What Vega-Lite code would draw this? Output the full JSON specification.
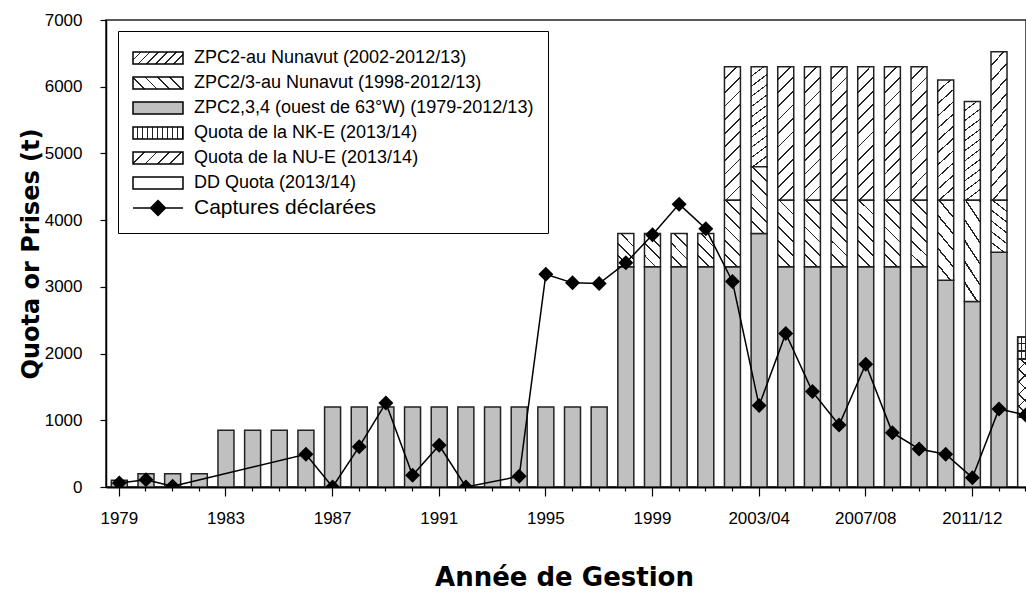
{
  "$schema": "https://vega.github.io/schema/vega-lite/v6.json",
  "width": 920,
  "height": 467,
  "autosize": {"type": "none"},
  "padding": {"left": 106, "top": 20, "right": 0, "bottom": 105},
  "background": "white",
  "config": {
    "font": "Liberation Sans",
    "view": {"stroke": "#222", "strokeWidth": 1.5},
    "axis": {
      "labelFont": "Liberation Sans", "labelFontSize": 17, "labelColor": "#000",
      "titleFont": "DejaVu Sans", "titleFontSize": 24, "titleFontWeight": "bold", "titleColor": "#000",
      "domainColor": "#000", "tickColor": "#000", "domainWidth": 1.5, "tickWidth": 1.2, "grid": false
    },
    "axisY": {"labelPadding": 18, "tickSize": 6, "titlePadding": 1},
    "axisX": {"titleFontSize": 26}
  },
  "datasets": {
    "quota": [
      {"year": "1979", "series": "ZPC2,3,4 (ouest de 63°W) (1979-2012/13)", "value": 100},
      {"year": "1980", "series": "ZPC2,3,4 (ouest de 63°W) (1979-2012/13)", "value": 200},
      {"year": "1981", "series": "ZPC2,3,4 (ouest de 63°W) (1979-2012/13)", "value": 200},
      {"year": "1982", "series": "ZPC2,3,4 (ouest de 63°W) (1979-2012/13)", "value": 200},
      {"year": "1983", "series": "ZPC2,3,4 (ouest de 63°W) (1979-2012/13)", "value": 850},
      {"year": "1984", "series": "ZPC2,3,4 (ouest de 63°W) (1979-2012/13)", "value": 850},
      {"year": "1985", "series": "ZPC2,3,4 (ouest de 63°W) (1979-2012/13)", "value": 850},
      {"year": "1986", "series": "ZPC2,3,4 (ouest de 63°W) (1979-2012/13)", "value": 850},
      {"year": "1987", "series": "ZPC2,3,4 (ouest de 63°W) (1979-2012/13)", "value": 1200},
      {"year": "1988", "series": "ZPC2,3,4 (ouest de 63°W) (1979-2012/13)", "value": 1200},
      {"year": "1989", "series": "ZPC2,3,4 (ouest de 63°W) (1979-2012/13)", "value": 1200},
      {"year": "1990", "series": "ZPC2,3,4 (ouest de 63°W) (1979-2012/13)", "value": 1200},
      {"year": "1991", "series": "ZPC2,3,4 (ouest de 63°W) (1979-2012/13)", "value": 1200},
      {"year": "1992", "series": "ZPC2,3,4 (ouest de 63°W) (1979-2012/13)", "value": 1200},
      {"year": "1993", "series": "ZPC2,3,4 (ouest de 63°W) (1979-2012/13)", "value": 1200},
      {"year": "1994", "series": "ZPC2,3,4 (ouest de 63°W) (1979-2012/13)", "value": 1200},
      {"year": "1995", "series": "ZPC2,3,4 (ouest de 63°W) (1979-2012/13)", "value": 1200},
      {"year": "1996", "series": "ZPC2,3,4 (ouest de 63°W) (1979-2012/13)", "value": 1200},
      {"year": "1997", "series": "ZPC2,3,4 (ouest de 63°W) (1979-2012/13)", "value": 1200},
      {"year": "1998", "series": "ZPC2,3,4 (ouest de 63°W) (1979-2012/13)", "value": 3300},
      {"year": "1998", "series": "ZPC2/3-au Nunavut (1998-2012/13)", "value": 500},
      {"year": "1999", "series": "ZPC2,3,4 (ouest de 63°W) (1979-2012/13)", "value": 3300},
      {"year": "1999", "series": "ZPC2/3-au Nunavut (1998-2012/13)", "value": 500},
      {"year": "2000", "series": "ZPC2,3,4 (ouest de 63°W) (1979-2012/13)", "value": 3300},
      {"year": "2000", "series": "ZPC2/3-au Nunavut (1998-2012/13)", "value": 500},
      {"year": "2001", "series": "ZPC2,3,4 (ouest de 63°W) (1979-2012/13)", "value": 3300},
      {"year": "2001", "series": "ZPC2/3-au Nunavut (1998-2012/13)", "value": 500},
      {"year": "2002", "series": "ZPC2,3,4 (ouest de 63°W) (1979-2012/13)", "value": 3300},
      {"year": "2002", "series": "ZPC2/3-au Nunavut (1998-2012/13)", "value": 1000},
      {"year": "2002", "series": "ZPC2-au Nunavut (2002-2012/13)", "value": 2000},
      {"year": "2003/04", "series": "ZPC2,3,4 (ouest de 63°W) (1979-2012/13)", "value": 3800},
      {"year": "2003/04", "series": "ZPC2/3-au Nunavut (1998-2012/13)", "value": 1000},
      {"year": "2003/04", "series": "ZPC2-au Nunavut (2002-2012/13)", "value": 1500},
      {"year": "2004/05", "series": "ZPC2,3,4 (ouest de 63°W) (1979-2012/13)", "value": 3300},
      {"year": "2004/05", "series": "ZPC2/3-au Nunavut (1998-2012/13)", "value": 1000},
      {"year": "2004/05", "series": "ZPC2-au Nunavut (2002-2012/13)", "value": 2000},
      {"year": "2005/06", "series": "ZPC2,3,4 (ouest de 63°W) (1979-2012/13)", "value": 3300},
      {"year": "2005/06", "series": "ZPC2/3-au Nunavut (1998-2012/13)", "value": 1000},
      {"year": "2005/06", "series": "ZPC2-au Nunavut (2002-2012/13)", "value": 2000},
      {"year": "2006/07", "series": "ZPC2,3,4 (ouest de 63°W) (1979-2012/13)", "value": 3300},
      {"year": "2006/07", "series": "ZPC2/3-au Nunavut (1998-2012/13)", "value": 1000},
      {"year": "2006/07", "series": "ZPC2-au Nunavut (2002-2012/13)", "value": 2000},
      {"year": "2007/08", "series": "ZPC2,3,4 (ouest de 63°W) (1979-2012/13)", "value": 3300},
      {"year": "2007/08", "series": "ZPC2/3-au Nunavut (1998-2012/13)", "value": 1000},
      {"year": "2007/08", "series": "ZPC2-au Nunavut (2002-2012/13)", "value": 2000},
      {"year": "2008/09", "series": "ZPC2,3,4 (ouest de 63°W) (1979-2012/13)", "value": 3300},
      {"year": "2008/09", "series": "ZPC2/3-au Nunavut (1998-2012/13)", "value": 1000},
      {"year": "2008/09", "series": "ZPC2-au Nunavut (2002-2012/13)", "value": 2000},
      {"year": "2009/10", "series": "ZPC2,3,4 (ouest de 63°W) (1979-2012/13)", "value": 3300},
      {"year": "2009/10", "series": "ZPC2/3-au Nunavut (1998-2012/13)", "value": 1000},
      {"year": "2009/10", "series": "ZPC2-au Nunavut (2002-2012/13)", "value": 2000},
      {"year": "2010/11", "series": "ZPC2,3,4 (ouest de 63°W) (1979-2012/13)", "value": 3100},
      {"year": "2010/11", "series": "ZPC2/3-au Nunavut (1998-2012/13)", "value": 1200},
      {"year": "2010/11", "series": "ZPC2-au Nunavut (2002-2012/13)", "value": 1800},
      {"year": "2011/12", "series": "ZPC2,3,4 (ouest de 63°W) (1979-2012/13)", "value": 2780},
      {"year": "2011/12", "series": "ZPC2/3-au Nunavut (1998-2012/13)", "value": 1520},
      {"year": "2011/12", "series": "ZPC2-au Nunavut (2002-2012/13)", "value": 1480},
      {"year": "2012/13", "series": "ZPC2,3,4 (ouest de 63°W) (1979-2012/13)", "value": 3520},
      {"year": "2012/13", "series": "ZPC2/3-au Nunavut (1998-2012/13)", "value": 780},
      {"year": "2012/13", "series": "ZPC2-au Nunavut (2002-2012/13)", "value": 2225},
      {"year": "2013/14", "series": "DD Quota (2013/14)", "value": 1050},
      {"year": "2013/14", "series": "Quota de la NU-E (2013/14)", "value": 870},
      {"year": "2013/14", "series": "Quota de la NK-E (2013/14)", "value": 330}
    ],
    "catch": [
      {"year": "1979", "catch": 60},
      {"year": "1980", "catch": 110},
      {"year": "1981", "catch": 10},
      {"year": "1986", "catch": 490},
      {"year": "1987", "catch": 0},
      {"year": "1988", "catch": 605},
      {"year": "1989", "catch": 1260},
      {"year": "1990", "catch": 175},
      {"year": "1991", "catch": 625},
      {"year": "1992", "catch": 0},
      {"year": "1994", "catch": 160},
      {"year": "1995", "catch": 3190},
      {"year": "1996", "catch": 3060},
      {"year": "1997", "catch": 3050},
      {"year": "1998", "catch": 3360},
      {"year": "1999", "catch": 3780},
      {"year": "2000", "catch": 4240},
      {"year": "2001", "catch": 3870},
      {"year": "2002", "catch": 3080},
      {"year": "2003/04", "catch": 1220},
      {"year": "2004/05", "catch": 2300},
      {"year": "2005/06", "catch": 1430},
      {"year": "2006/07", "catch": 930},
      {"year": "2007/08", "catch": 1840},
      {"year": "2008/09", "catch": 815},
      {"year": "2009/10", "catch": 570},
      {"year": "2010/11", "catch": 490},
      {"year": "2011/12", "catch": 140},
      {"year": "2012/13", "catch": 1170},
      {"year": "2013/14", "catch": 1080}
    ]
  },
  "encoding": {
    "x": {
      "field": "year", "type": "nominal", "title": "Année de Gestion",
      "scale": {
        "domain": ["1979","1980","1981","1982","1983","1984","1985","1986","1987","1988","1989","1990","1991","1992","1993","1994","1995","1996","1997","1998","1999","2000","2001","2002","2003/04","2004/05","2005/06","2006/07","2007/08","2008/09","2009/10","2010/11","2011/12","2012/13","2013/14"],
        "range": [0, 933], "paddingInner": 0.4, "paddingOuter": 0.2
      },
      "axis": {
        "labelExpr": "indexof(['1979','1983','1987','1991','1995','1999','2003/04','2007/08','2011/12'], datum.value) >= 0 ? datum.value : ''",
        "labelAngle": 0, "labelOverlap": false, "bandPosition": 0.5,
        "tickSize": {"condition": {"test": "indexof(['1979','1983','1987','1991','1995','1999','2003/04','2007/08','2011/12'], datum.value) >= 0", "value": 9}, "value": 4},
        "labelPadding": 14, "titlePadding": 38, "domainWidth": 2, "titleX": 458
      }
    }
  },
  "layer": [
    {
      "data": {"name": "quota"},
      "transform": [
        {"stack": "value", "groupby": ["year"], "as": ["v0", "v1"]},
        {"filter": "datum.series === 'ZPC2,3,4 (ouest de 63°W) (1979-2012/13)'"}
      ],
      "mark": {"type": "bar", "stroke": "#222", "strokeWidth": 1.5, "clip": true, "fill": "#c0c0c0"},
      "encoding": {
        "y": {
          "field": "v1", "type": "quantitative", "title": "Quota or Prises (t)",
          "scale": {"domain": [0, 7000], "nice": false},
          "axis": {
            "values": [0,500,1000,1500,2000,2500,3000,3500,4000,4500,5000,5500,6000,6500,7000],
            "format": "d", "labelExpr": "datum.value % 1000 === 0 ? datum.label : ''",
            "tickSize": 6, "labelPadding": 18, "titlePadding": 1, "labelOverlap": false
          }
        },
        "y2": {"field": "v0"}
      }
    },
    {
      "data": {"name": "quota"},
      "transform": [
        {"stack": "value", "groupby": ["year"], "as": ["v0", "v1"]},
        {"filter": "datum.series === 'DD Quota (2013/14)'"}
      ],
      "mark": {"type": "bar", "stroke": "#222", "strokeWidth": 1.5, "clip": true, "fill": "#ffffff"},
      "encoding": {
        "y": {"field": "v1", "type": "quantitative", "title": "Quota or Prises (t)", "scale": {"domain": [0, 7000], "nice": false}},
        "y2": {"field": "v0"}
      }
    },
    {
      "data": {"name": "quota"},
      "transform": [
        {"stack": "value", "groupby": ["year"], "as": ["v0", "v1"]},
        {"filter": "datum.series === 'ZPC2-au Nunavut (2002-2012/13)'"}
      ],
      "mark": {"type": "bar", "stroke": "#222", "strokeWidth": 1.5, "clip": true,
        "fill": {"gradient": "linear", "x1": 0, "y1": 0, "x2": 0.1325, "y2": 1.104, "stops": [
          {"offset":0,"color":"#fff"},{"offset":0.0791,"color":"#fff"},{"offset":0.0791,"color":"#222"},{"offset":0.0909,"color":"#222"},
          {"offset":0.0909,"color":"#fff"},{"offset":0.17,"color":"#fff"},{"offset":0.17,"color":"#222"},{"offset":0.1818,"color":"#222"},
          {"offset":0.1818,"color":"#fff"},{"offset":0.2609,"color":"#fff"},{"offset":0.2609,"color":"#222"},{"offset":0.2727,"color":"#222"},
          {"offset":0.2727,"color":"#fff"},{"offset":0.3518,"color":"#fff"},{"offset":0.3518,"color":"#222"},{"offset":0.3636,"color":"#222"},
          {"offset":0.3636,"color":"#fff"},{"offset":0.4427,"color":"#fff"},{"offset":0.4427,"color":"#222"},{"offset":0.4545,"color":"#222"},
          {"offset":0.4545,"color":"#fff"},{"offset":0.5336,"color":"#fff"},{"offset":0.5336,"color":"#222"},{"offset":0.5455,"color":"#222"},
          {"offset":0.5455,"color":"#fff"},{"offset":0.6246,"color":"#fff"},{"offset":0.6246,"color":"#222"},{"offset":0.6364,"color":"#222"},
          {"offset":0.6364,"color":"#fff"},{"offset":0.7155,"color":"#fff"},{"offset":0.7155,"color":"#222"},{"offset":0.7273,"color":"#222"},
          {"offset":0.7273,"color":"#fff"},{"offset":0.8064,"color":"#fff"},{"offset":0.8064,"color":"#222"},{"offset":0.8182,"color":"#222"},
          {"offset":0.8182,"color":"#fff"},{"offset":0.8973,"color":"#fff"},{"offset":0.8973,"color":"#222"},{"offset":0.9091,"color":"#222"},
          {"offset":0.9091,"color":"#fff"},{"offset":0.9882,"color":"#fff"},{"offset":0.9882,"color":"#222"},{"offset":1,"color":"#222"}
        ]}
      },
      "encoding": {
        "y": {"field": "v1", "type": "quantitative", "title": "Quota or Prises (t)", "scale": {"domain": [0, 7000], "nice": false}},
        "y2": {"field": "v0"}
      }
    },
    {
      "data": {"name": "quota"},
      "transform": [
        {"stack": "value", "groupby": ["year"], "as": ["v0", "v1"]},
        {"filter": "datum.series === 'ZPC2/3-au Nunavut (1998-2012/13)' && datum.value !== 500"}
      ],
      "mark": {"type": "bar", "stroke": "#222", "strokeWidth": 1.5, "clip": true,
        "fill": {"gradient": "linear", "x1": 0, "y1": 1, "x2": 0.28, "y2": -0.172, "stops": [
          {"offset":0,"color":"#fff"},{"offset":0.145,"color":"#fff"},{"offset":0.145,"color":"#222"},{"offset":0.1667,"color":"#222"},
          {"offset":0.1667,"color":"#fff"},{"offset":0.3117,"color":"#fff"},{"offset":0.3117,"color":"#222"},{"offset":0.3333,"color":"#222"},
          {"offset":0.3333,"color":"#fff"},{"offset":0.4783,"color":"#fff"},{"offset":0.4783,"color":"#222"},{"offset":0.5,"color":"#222"},
          {"offset":0.5,"color":"#fff"},{"offset":0.645,"color":"#fff"},{"offset":0.645,"color":"#222"},{"offset":0.6667,"color":"#222"},
          {"offset":0.6667,"color":"#fff"},{"offset":0.8117,"color":"#fff"},{"offset":0.8117,"color":"#222"},{"offset":0.8333,"color":"#222"},
          {"offset":0.8333,"color":"#fff"},{"offset":0.9783,"color":"#fff"},{"offset":0.9783,"color":"#222"},{"offset":1,"color":"#222"}
        ]}
      },
      "encoding": {
        "y": {"field": "v1", "type": "quantitative", "title": "Quota or Prises (t)", "scale": {"domain": [0, 7000], "nice": false}},
        "y2": {"field": "v0"}
      }
    },
    {
      "data": {"name": "quota"},
      "transform": [
        {"stack": "value", "groupby": ["year"], "as": ["v0", "v1"]},
        {"filter": "datum.series === 'ZPC2/3-au Nunavut (1998-2012/13)' && datum.value === 500"}
      ],
      "mark": {"type": "bar", "stroke": "#222", "strokeWidth": 1.5, "clip": true,
        "fill": {"gradient": "linear", "x1": 0, "y1": 1, "x2": 0.583, "y2": -0.202, "stops": [
          {"offset":0,"color":"#fff"},{"offset":0.215,"color":"#fff"},{"offset":0.215,"color":"#222"},{"offset":0.25,"color":"#222"},
          {"offset":0.25,"color":"#fff"},{"offset":0.465,"color":"#fff"},{"offset":0.465,"color":"#222"},{"offset":0.5,"color":"#222"},
          {"offset":0.5,"color":"#fff"},{"offset":0.715,"color":"#fff"},{"offset":0.715,"color":"#222"},{"offset":0.75,"color":"#222"},
          {"offset":0.75,"color":"#fff"},{"offset":0.965,"color":"#fff"},{"offset":0.965,"color":"#222"},{"offset":1,"color":"#222"}
        ]}
      },
      "encoding": {
        "y": {"field": "v1", "type": "quantitative", "title": "Quota or Prises (t)", "scale": {"domain": [0, 7000], "nice": false}},
        "y2": {"field": "v0"}
      }
    },
    {
      "data": {"name": "quota"},
      "transform": [
        {"stack": "value", "groupby": ["year"], "as": ["v0", "v1"]},
        {"filter": "datum.series === 'Quota de la NU-E (2013/14)'"}
      ],
      "mark": {"type": "bar", "stroke": "#222", "strokeWidth": 1.5, "clip": true,
        "fill": {"gradient": "linear", "x1": 0, "y1": 0, "x2": 0.327, "y2": 1.186, "stops": [
          {"offset":0,"color":"#fff"},{"offset":0.145,"color":"#fff"},{"offset":0.145,"color":"#222"},{"offset":0.1667,"color":"#222"},
          {"offset":0.1667,"color":"#fff"},{"offset":0.3117,"color":"#fff"},{"offset":0.3117,"color":"#222"},{"offset":0.3333,"color":"#222"},
          {"offset":0.3333,"color":"#fff"},{"offset":0.4783,"color":"#fff"},{"offset":0.4783,"color":"#222"},{"offset":0.5,"color":"#222"},
          {"offset":0.5,"color":"#fff"},{"offset":0.645,"color":"#fff"},{"offset":0.645,"color":"#222"},{"offset":0.6667,"color":"#222"},
          {"offset":0.6667,"color":"#fff"},{"offset":0.8117,"color":"#fff"},{"offset":0.8117,"color":"#222"},{"offset":0.8333,"color":"#222"},
          {"offset":0.8333,"color":"#fff"},{"offset":0.9783,"color":"#fff"},{"offset":0.9783,"color":"#222"},{"offset":1,"color":"#222"}
        ]}
      },
      "encoding": {
        "y": {"field": "v1", "type": "quantitative", "title": "Quota or Prises (t)", "scale": {"domain": [0, 7000], "nice": false}},
        "y2": {"field": "v0"}
      }
    },
    {
      "data": {"name": "quota"},
      "transform": [
        {"stack": "value", "groupby": ["year"], "as": ["v0", "v1"]},
        {"filter": "datum.series === 'Quota de la NU-E (2013/14)'"}
      ],
      "mark": {"type": "bar", "stroke": "#222", "strokeWidth": 1.5, "clip": true,
        "fill": {"gradient": "linear", "x1": 0, "y1": 1, "x2": 0.327, "y2": -0.186, "stops": [
          {"offset":0,"color":"rgba(0,0,0,0)"},{"offset":0.145,"color":"rgba(0,0,0,0)"},{"offset":0.145,"color":"#222"},{"offset":0.1667,"color":"#222"},
          {"offset":0.1667,"color":"rgba(0,0,0,0)"},{"offset":0.3117,"color":"rgba(0,0,0,0)"},{"offset":0.3117,"color":"#222"},{"offset":0.3333,"color":"#222"},
          {"offset":0.3333,"color":"rgba(0,0,0,0)"},{"offset":0.4783,"color":"rgba(0,0,0,0)"},{"offset":0.4783,"color":"#222"},{"offset":0.5,"color":"#222"},
          {"offset":0.5,"color":"rgba(0,0,0,0)"},{"offset":0.645,"color":"rgba(0,0,0,0)"},{"offset":0.645,"color":"#222"},{"offset":0.6667,"color":"#222"},
          {"offset":0.6667,"color":"rgba(0,0,0,0)"},{"offset":0.8117,"color":"rgba(0,0,0,0)"},{"offset":0.8117,"color":"#222"},{"offset":0.8333,"color":"#222"},
          {"offset":0.8333,"color":"rgba(0,0,0,0)"},{"offset":0.9783,"color":"rgba(0,0,0,0)"},{"offset":0.9783,"color":"#222"},{"offset":1,"color":"#222"}
        ]}
      },
      "encoding": {
        "y": {"field": "v1", "type": "quantitative", "title": "Quota or Prises (t)", "scale": {"domain": [0, 7000], "nice": false}},
        "y2": {"field": "v0"}
      }
    },
    {
      "data": {"name": "quota"},
      "transform": [
        {"stack": "value", "groupby": ["year"], "as": ["v0", "v1"]},
        {"filter": "datum.series === 'Quota de la NK-E (2013/14)'"}
      ],
      "mark": {"type": "bar", "stroke": "#222", "strokeWidth": 1.5, "clip": true,
        "fill": {"gradient": "linear", "x1": 0, "y1": 0, "x2": 1, "y2": 0, "stops": [
          {"offset":0,"color":"#fff"},{"offset":0.1875,"color":"#fff"},{"offset":0.1875,"color":"#222"},{"offset":0.25,"color":"#222"},
          {"offset":0.25,"color":"#fff"},{"offset":0.4375,"color":"#fff"},{"offset":0.4375,"color":"#222"},{"offset":0.5,"color":"#222"},
          {"offset":0.5,"color":"#fff"},{"offset":0.6875,"color":"#fff"},{"offset":0.6875,"color":"#222"},{"offset":0.75,"color":"#222"},
          {"offset":0.75,"color":"#fff"},{"offset":0.9375,"color":"#fff"},{"offset":0.9375,"color":"#222"},{"offset":1,"color":"#222"}
        ]}
      },
      "encoding": {
        "y": {"field": "v1", "type": "quantitative", "title": "Quota or Prises (t)", "scale": {"domain": [0, 7000], "nice": false}},
        "y2": {"field": "v0"}
      }
    },
    {
      "data": {"name": "quota"},
      "transform": [
        {"stack": "value", "groupby": ["year"], "as": ["v0", "v1"]},
        {"filter": "datum.series === 'Quota de la NK-E (2013/14)'"}
      ],
      "mark": {"type": "bar", "stroke": "#222", "strokeWidth": 1.5, "clip": true,
        "fill": {"gradient": "linear", "x1": 0, "y1": 0, "x2": 0, "y2": 1, "stops": [
          {"offset":0,"color":"rgba(0,0,0,0)"},{"offset":0.2833,"color":"rgba(0,0,0,0)"},{"offset":0.2833,"color":"#222"},{"offset":0.3333,"color":"#222"},
          {"offset":0.3333,"color":"rgba(0,0,0,0)"},{"offset":0.6167,"color":"rgba(0,0,0,0)"},{"offset":0.6167,"color":"#222"},{"offset":0.6667,"color":"#222"},
          {"offset":0.6667,"color":"rgba(0,0,0,0)"},{"offset":0.95,"color":"rgba(0,0,0,0)"},{"offset":0.95,"color":"#222"},{"offset":1,"color":"#222"}
        ]}
      },
      "encoding": {
        "y": {"field": "v1", "type": "quantitative", "title": "Quota or Prises (t)", "scale": {"domain": [0, 7000], "nice": false}},
        "y2": {"field": "v0"}
      }
    },
    {
      "data": {"name": "catch"},
      "mark": {"type": "line", "color": "#000", "strokeWidth": 1.5, "clip": true,
        "point": {"shape": "diamond", "filled": true, "size": 225, "color": "#000", "clip": true}},
      "encoding": {
        "y": {"field": "catch", "type": "quantitative", "title": "Quota or Prises (t)", "scale": {"domain": [0, 7000], "nice": false}}
      }
    },
    {
      "data": {"name": "catch"},
      "transform": [{"filter": "datum.catch < 0"}],
      "mark": {"type": "point", "filled": true, "opacity": 1, "stroke": "#000", "strokeWidth": 1.5, "size": 576},
      "encoding": {
        "y": {"field": "catch", "type": "quantitative", "title": "Quota or Prises (t)", "scale": {"domain": [0, 7000], "nice": false}},
        "color": {
          "field": "series", "type": "nominal",
          "scale": {
            "domain": ["ZPC2-au Nunavut (2002-2012/13)", "ZPC2/3-au Nunavut (1998-2012/13)", "ZPC2,3,4 (ouest de 63°W) (1979-2012/13)", "Quota de la NK-E (2013/14)", "Quota de la NU-E (2013/14)", "DD Quota (2013/14)", "Captures déclarées"],
            "range": [
              {"expr": "{gradient:'linear',x1:0,y1:0,x2:1.172,y2:0.281,stops:[{offset:0,color:'#fff'},{offset:0.1172,color:'#fff'},{offset:0.1172,color:'#222'},{offset:0.1429,color:'#222'},{offset:0.1429,color:'#fff'},{offset:0.26,color:'#fff'},{offset:0.26,color:'#222'},{offset:0.2857,color:'#222'},{offset:0.2857,color:'#fff'},{offset:0.4029,color:'#fff'},{offset:0.4029,color:'#222'},{offset:0.4286,color:'#222'},{offset:0.4286,color:'#fff'},{offset:0.5457,color:'#fff'},{offset:0.5457,color:'#222'},{offset:0.5714,color:'#222'},{offset:0.5714,color:'#fff'},{offset:0.6886,color:'#fff'},{offset:0.6886,color:'#222'},{offset:0.7143,color:'#222'},{offset:0.7143,color:'#fff'},{offset:0.8314,color:'#fff'},{offset:0.8314,color:'#222'},{offset:0.8571,color:'#222'},{offset:0.8571,color:'#fff'},{offset:0.9743,color:'#fff'},{offset:0.9743,color:'#222'},{offset:1,color:'#222'}]}"},
              {"expr": "{gradient:'linear',x1:0,y1:1,x2:1.172,y2:0.719,stops:[{offset:0,color:'#fff'},{offset:0.172,color:'#fff'},{offset:0.172,color:'#222'},{offset:0.2,color:'#222'},{offset:0.2,color:'#fff'},{offset:0.372,color:'#fff'},{offset:0.372,color:'#222'},{offset:0.4,color:'#222'},{offset:0.4,color:'#fff'},{offset:0.572,color:'#fff'},{offset:0.572,color:'#222'},{offset:0.6,color:'#222'},{offset:0.6,color:'#fff'},{offset:0.772,color:'#fff'},{offset:0.772,color:'#222'},{offset:0.8,color:'#222'},{offset:0.8,color:'#fff'},{offset:0.972,color:'#fff'},{offset:0.972,color:'#222'},{offset:1,color:'#222'}]}"},
              "#c0c0c0",
              {"expr": "{gradient:'linear',x1:0,y1:0,x2:1,y2:0,stops:[{offset:0,color:'#fff'},{offset:0.08,color:'#fff'},{offset:0.08,color:'#222'},{offset:0.1,color:'#222'},{offset:0.1,color:'#fff'},{offset:0.18,color:'#fff'},{offset:0.18,color:'#222'},{offset:0.2,color:'#222'},{offset:0.2,color:'#fff'},{offset:0.28,color:'#fff'},{offset:0.28,color:'#222'},{offset:0.3,color:'#222'},{offset:0.3,color:'#fff'},{offset:0.38,color:'#fff'},{offset:0.38,color:'#222'},{offset:0.4,color:'#222'},{offset:0.4,color:'#fff'},{offset:0.48,color:'#fff'},{offset:0.48,color:'#222'},{offset:0.5,color:'#222'},{offset:0.5,color:'#fff'},{offset:0.58,color:'#fff'},{offset:0.58,color:'#222'},{offset:0.6,color:'#222'},{offset:0.6,color:'#fff'},{offset:0.68,color:'#fff'},{offset:0.68,color:'#222'},{offset:0.7,color:'#222'},{offset:0.7,color:'#fff'},{offset:0.78,color:'#fff'},{offset:0.78,color:'#222'},{offset:0.8,color:'#222'},{offset:0.8,color:'#fff'},{offset:0.88,color:'#fff'},{offset:0.88,color:'#222'},{offset:0.9,color:'#222'},{offset:0.9,color:'#fff'},{offset:0.98,color:'#fff'},{offset:0.98,color:'#222'},{offset:1,color:'#222'}]}"},
              {"expr": "{gradient:'linear',x1:0,y1:0,x2:1.172,y2:0.281,stops:[{offset:0,color:'#fff'},{offset:0.172,color:'#fff'},{offset:0.172,color:'#222'},{offset:0.2,color:'#222'},{offset:0.2,color:'#fff'},{offset:0.372,color:'#fff'},{offset:0.372,color:'#222'},{offset:0.4,color:'#222'},{offset:0.4,color:'#fff'},{offset:0.572,color:'#fff'},{offset:0.572,color:'#222'},{offset:0.6,color:'#222'},{offset:0.6,color:'#fff'},{offset:0.772,color:'#fff'},{offset:0.772,color:'#222'},{offset:0.8,color:'#222'},{offset:0.8,color:'#fff'},{offset:0.972,color:'#fff'},{offset:0.972,color:'#222'},{offset:1,color:'#222'}]}"},
              "#ffffff",
              "#000000"
            ]
          },
          "legend": {
            "title": null, "orient": "none", "legendX": 12, "legendY": 11,
            "padding": 14, "strokeColor": "#000", "fillColor": "#fff",
            "symbolSize": 576, "symbolOffset": 13, "labelOffset": 23, "rowPadding": 3,
            "labelLimit": 600, "labelFont": "Liberation Sans", "labelColor": "#000",
            "labelFontSize": {"expr": "datum && datum.value === 'Captures déclarées' ? 21 : 18"},
            "symbolStrokeColor": "#000", "symbolStrokeWidth": 1.5
          }
        },
        "shape": {
          "field": "series", "type": "nominal",
          "scale": {
            "domain": ["ZPC2-au Nunavut (2002-2012/13)", "ZPC2/3-au Nunavut (1998-2012/13)", "ZPC2,3,4 (ouest de 63°W) (1979-2012/13)", "Quota de la NK-E (2013/14)", "Quota de la NU-E (2013/14)", "DD Quota (2013/14)", "Captures déclarées"],
            "range": ["M-2.083,-0.5H2.083V0.5H-2.083Z", "M-2.083,-0.5H2.083V0.5H-2.083Z", "M-2.083,-0.5H2.083V0.5H-2.083Z", "M-2.083,-0.5H2.083V0.5H-2.083Z", "M-2.083,-0.5H2.083V0.5H-2.083Z", "M-2.083,-0.5H2.083V0.5H-2.083Z", "M-2.083,0H2.083M0,-0.625L0.625,0L0,0.625L-0.625,0Z"]
          },
          "legend": {
            "title": null, "orient": "none", "legendX": 12, "legendY": 11,
            "padding": 14, "strokeColor": "#000", "fillColor": "#fff",
            "symbolSize": 576, "symbolOffset": 13, "labelOffset": 23, "rowPadding": 3,
            "labelLimit": 600, "labelFont": "Liberation Sans", "labelColor": "#000",
            "labelFontSize": {"expr": "datum && datum.value === 'Captures déclarées' ? 21 : 18"},
            "symbolStrokeColor": "#000", "symbolStrokeWidth": 1.5
          }
        }
      }
    }
  ]
}
